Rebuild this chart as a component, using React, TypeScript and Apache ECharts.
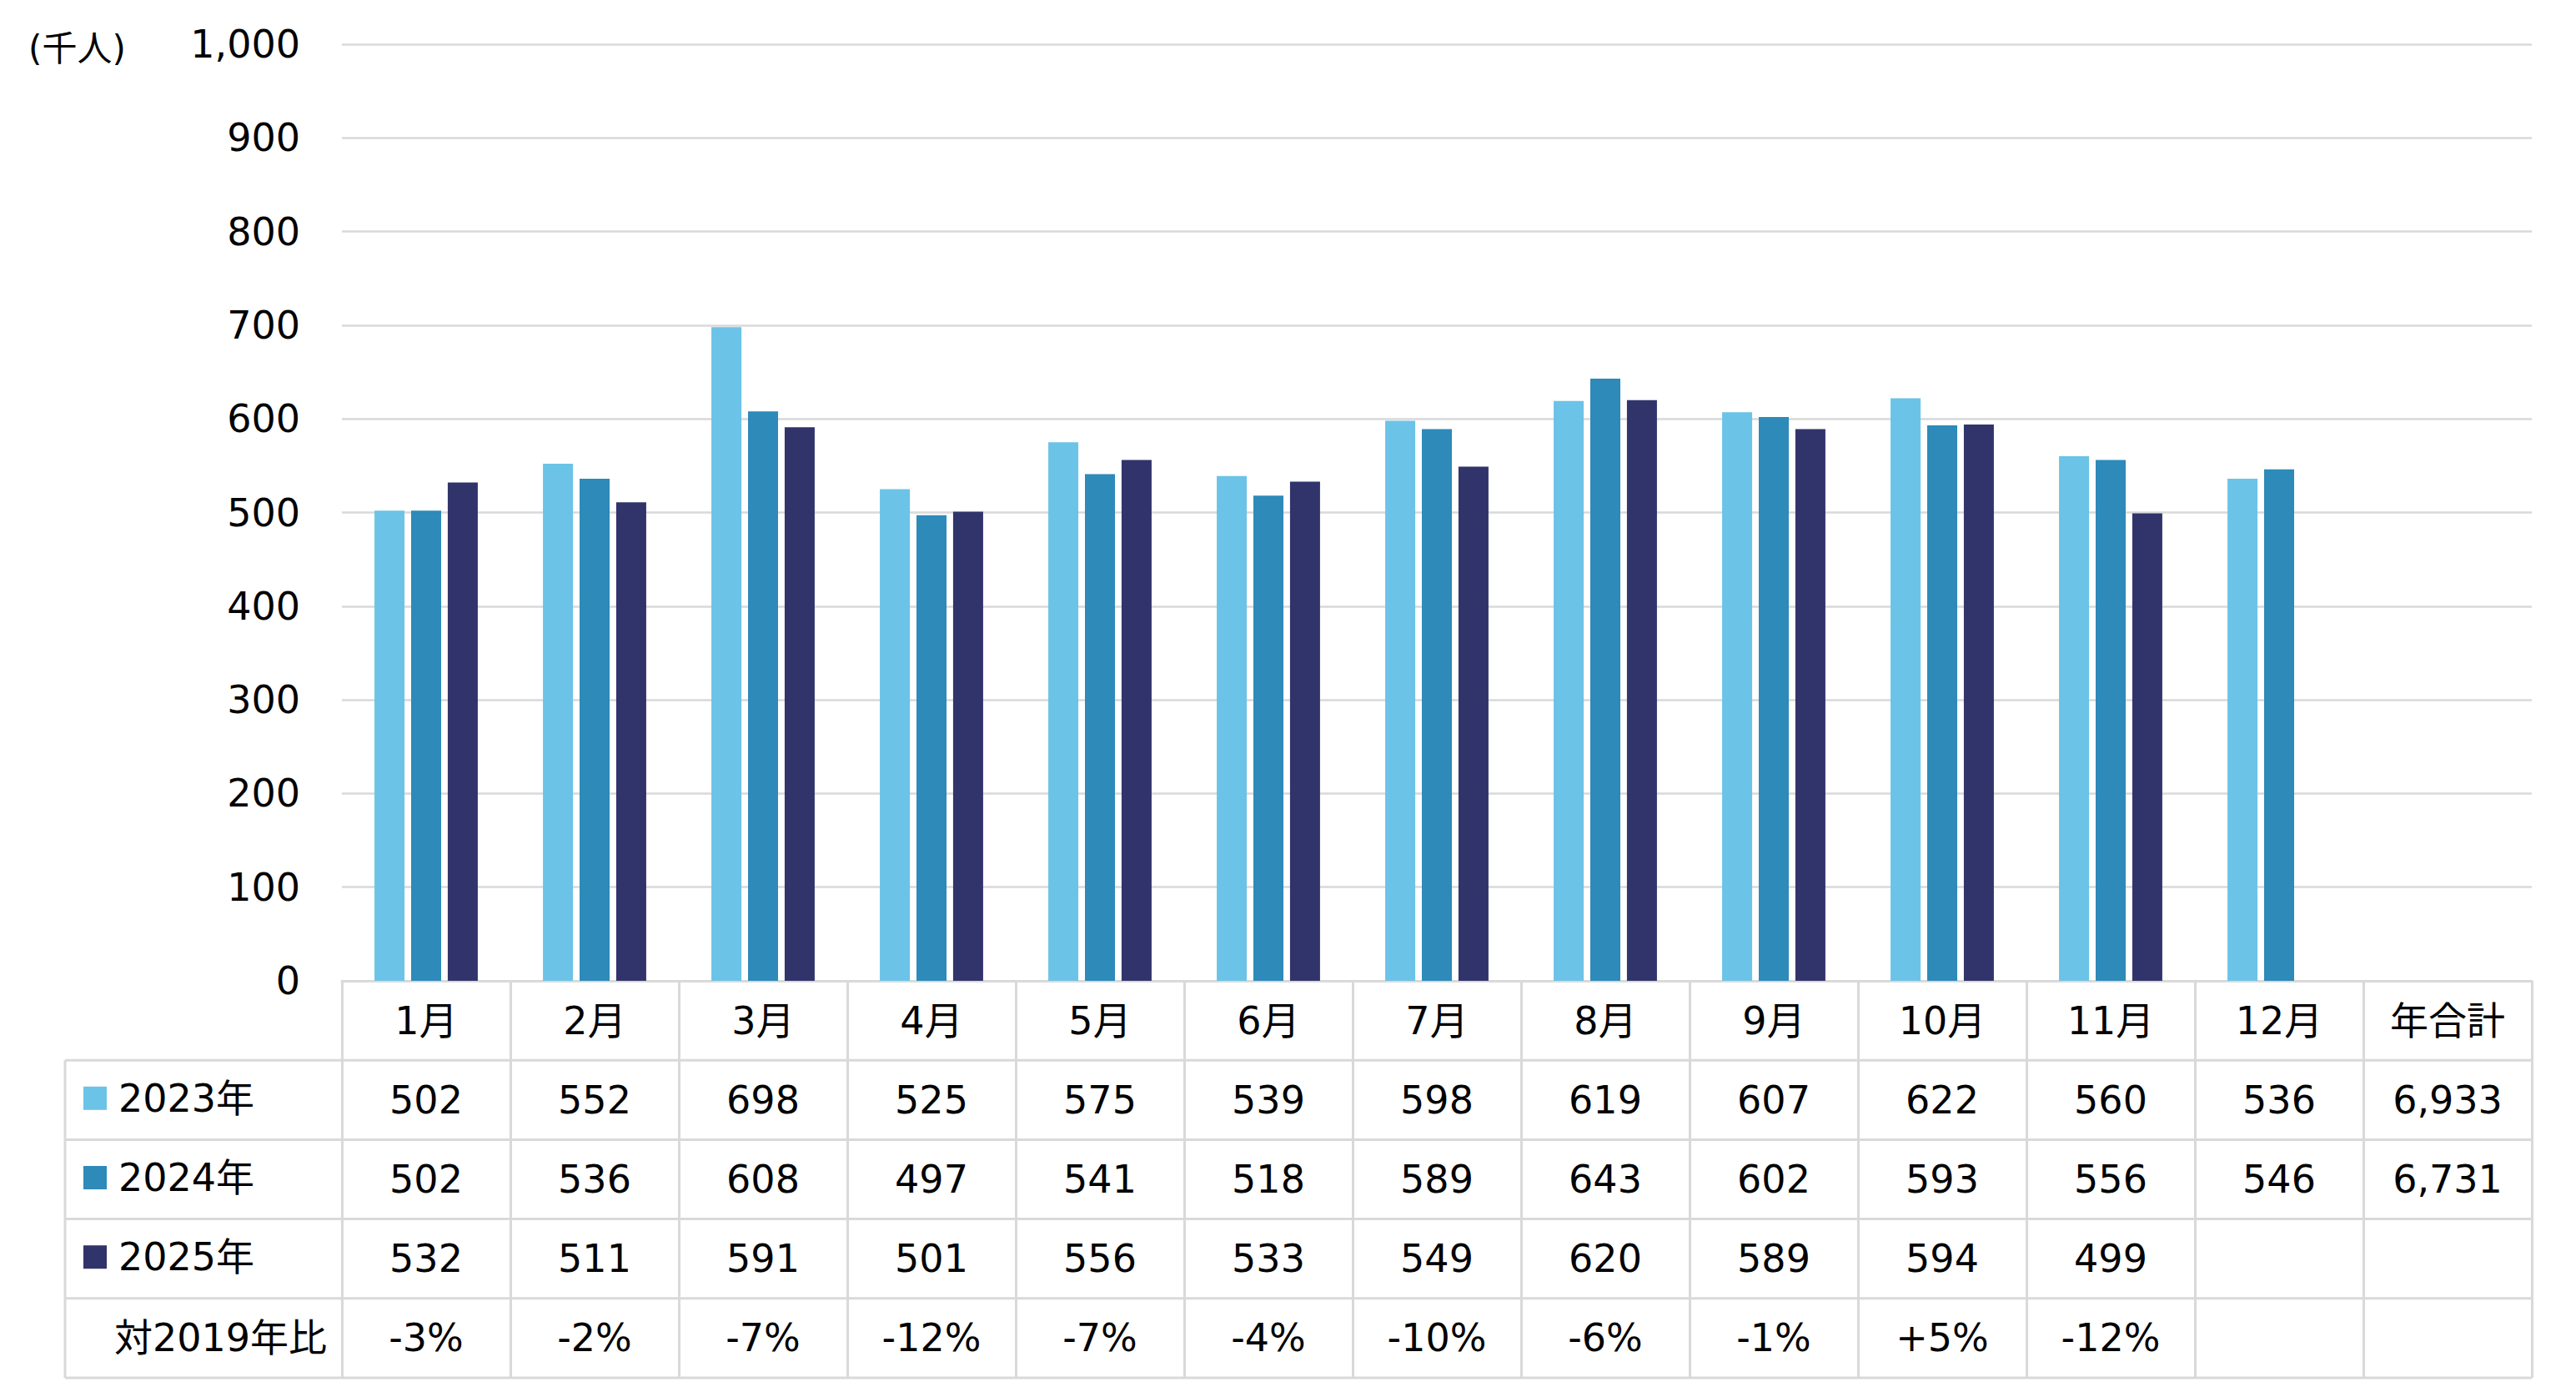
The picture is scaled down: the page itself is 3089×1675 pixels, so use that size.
import React, { useEffect, useRef } from 'react';
import * as echarts from 'echarts';

// ---- data ----
const categories = ['1月', '2月', '3月', '4月', '5月', '6月', '7月', '8月', '9月', '10月', '11月', '12月', '年合計'];
const seriesNames = ['2023年', '2024年', '2025年'];
const values2023 = [502, 552, 698, 525, 575, 539, 598, 619, 607, 622, 560, 536];
const values2024 = [502, 536, 608, 497, 541, 518, 589, 643, 602, 593, 556, 546];
const values2025 = [532, 511, 591, 501, 556, 533, 549, 620, 589, 594, 499];
const yearTotals: (number | null)[] = [6933, 6731, null];
const vs2019Labels = ['-3%', '-2%', '-7%', '-12%', '-7%', '-4%', '-10%', '-6%', '-1%', '+5%', '-12%', '', ''];
const vs2019Title = '対2019年比';
const unitLabel = '(千人)';
const yMin = 0;
const yMax = 1000;
const yInterval = 100;

// ---- styling / layout ----
const colors = ['#6BC3E7', '#2D8AB9', '#31346B'];
const FONT = '"DejaVu Sans", "Noto Sans CJK JP", sans-serif';
const GRID_LEFT = 410;
const GRID_RIGHT_X = 3036;
const GRID_TOP = 53;
const AXIS_Y = 1176;
const ROW_H = 95.2;
const TABLE_LEFT = 78;
const LINE_COLOR = '#D9D9D9';
const FS = 46;
const LH = 48;
const W = 3089;
const H = 1675;

const fmt = (n: number | null | undefined) => (n == null ? '' : n.toLocaleString('en-US'));

const allValues = [values2023, values2024, values2025];
const rowStrings: string[][] = allValues.map((vals, s) =>
  categories.map((_, i) => (i < 12 ? fmt(vals[i]) : fmt(yearTotals[s])))
);
rowStrings.push(vs2019Labels);

export default function App() {
  const ref = useRef<HTMLDivElement>(null);
  useEffect(() => {
    const chart = echarts.init(ref.current!, null, { renderer: 'svg' });
    const labelMargin = ROW_H / 2 - LH / 2;

    const extraAxes = rowStrings.map((row, k) => ({
      type: 'category',
      gridIndex: 0,
      position: 'bottom',
      offset: ROW_H * (k + 1),
      data: categories,
      axisLine: { show: false },
      axisTick: { show: false },
      splitLine: { show: false },
      axisLabel: {
        interval: 0,
        margin: labelMargin,
        fontSize: FS,
        lineHeight: LH,
        fontFamily: FONT,
        color: '#000',
        formatter: (_v: string, idx: number) => row[idx],
      },
    }));

    const graphics: any[] = [];
    for (let k = 1; k <= 5; k++) {
      const y = AXIS_Y + ROW_H * k;
      graphics.push({
        type: 'line',
        shape: { x1: TABLE_LEFT, y1: y, x2: GRID_RIGHT_X, y2: y },
        style: { stroke: LINE_COLOR, lineWidth: 3 },
      });
    }
    graphics.push({
      type: 'line',
      shape: { x1: TABLE_LEFT, y1: AXIS_Y + ROW_H, x2: TABLE_LEFT, y2: AXIS_Y + ROW_H * 5 },
      style: { stroke: LINE_COLOR, lineWidth: 3 },
    });
    graphics.push({
      type: 'text',
      x: 137,
      y: AXIS_Y + ROW_H * 4.5,
      style: {
        text: vs2019Title,
        fill: '#000',
        fontSize: FS,
        fontFamily: FONT,
        verticalAlign: 'middle',
        align: 'left',
      },
    });
    graphics.push({
      type: 'text',
      x: 34,
      y: 58,
      style: {
        text: unitLabel,
        fill: '#000',
        fontSize: 42,
        fontFamily: FONT,
        verticalAlign: 'middle',
        align: 'left',
      },
    });

    const legendItemH = 56;
    chart.setOption({
      animation: false,
      backgroundColor: '#fff',
      color: colors,
      grid: {
        left: GRID_LEFT,
        right: W - GRID_RIGHT_X,
        top: GRID_TOP,
        bottom: H - AXIS_Y,
        containLabel: false,
      },
      legend: {
        data: seriesNames,
        orient: 'vertical',
        left: 95,
        top: AXIS_Y + ROW_H * 1.5 - legendItemH / 2 - 7,
        itemWidth: 28,
        itemHeight: 28,
        itemGap: ROW_H - legendItemH,
        icon: 'rect',
        selectedMode: false,
        textStyle: {
          fontSize: FS,
          lineHeight: legendItemH,
          fontFamily: FONT,
          color: '#000',
          padding: [0, 0, 0, 9],
        },
      },
      xAxis: [
        {
          type: 'category',
          data: categories,
          position: 'bottom',
          axisLine: { show: true, lineStyle: { color: LINE_COLOR, width: 3 } },
          axisTick: {
            show: true,
            interval: 0,
            alignWithLabel: false,
            length: ROW_H * 5,
            lineStyle: { color: LINE_COLOR, width: 3 },
          },
          axisLabel: {
            interval: 0,
            margin: labelMargin,
            fontSize: FS,
            lineHeight: LH,
            fontFamily: FONT,
            color: '#000',
          },
        },
        ...extraAxes,
      ],
      yAxis: {
        type: 'value',
        min: yMin,
        max: yMax,
        interval: yInterval,
        axisLine: { show: false },
        axisTick: { show: false },
        splitLine: { show: true, lineStyle: { color: LINE_COLOR, width: 2.5 } },
        axisLabel: {
          margin: 50,
          fontSize: FS,
          fontFamily: FONT,
          color: '#000',
          formatter: (v: number) => fmt(v),
        },
      },
      graphic: graphics,
      series: allValues.map((vals, s) => ({
        name: seriesNames[s],
        type: 'bar',
        xAxisIndex: 0,
        data: vals,
        barWidth: 36,
        barGap: '22%',
        itemStyle: { color: colors[s] },
      })),
    });
    return () => chart.dispose();
  }, []);
  return (
    <div
      ref={ref}
      style={{ position: 'fixed', left: 0, top: 0, width: `${W}px`, height: `${H}px`, background: '#fff' }}
    />
  );
}
